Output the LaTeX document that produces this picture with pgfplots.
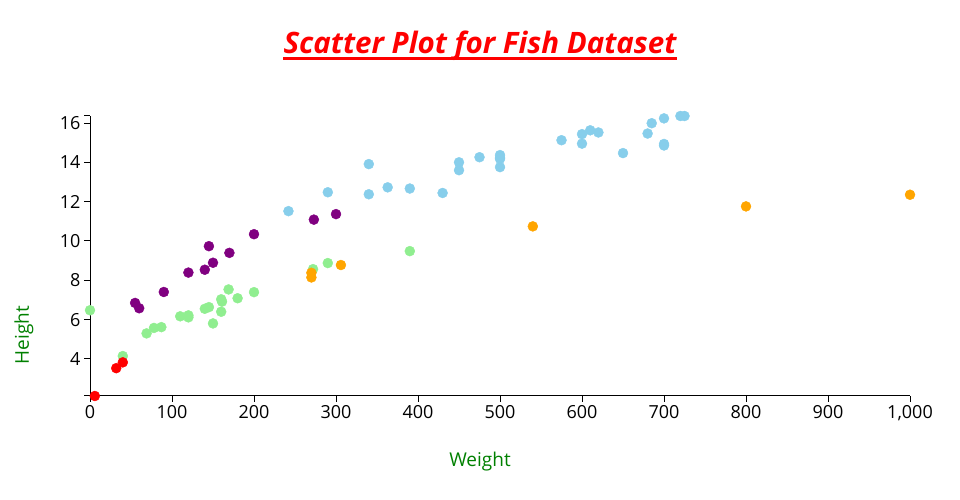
\documentclass[border=0pt]{standalone}
\usepackage{pgfplots}
\pgfplotsset{compat=1.18}
\usepackage{fontspec}
\setmainfont{Open Sans}
\definecolor{cBream}{HTML}{87CEEB}
\definecolor{cRoach}{HTML}{90EE90}
\definecolor{cWhite}{HTML}{FFA500}
\definecolor{cParkki}{HTML}{800080}
\definecolor{cPerch}{HTML}{FF0000}
\definecolor{cLab}{HTML}{008000}
\begin{document}
\begin{tikzpicture}[x=1bp,y=1bp]
\useasboundingbox (0,0) rectangle (960,500);
\node[anchor=base, inner sep=0pt, text=red, font=\fontsize{29.5bp}{34bp}\selectfont\bfseries\itshape] (T) at (480,446) {Scatter Plot for Fish Dataset};
\draw[red, line width=2.4bp] ([yshift=-4.5bp]T.base west) -- ([yshift=-4.5bp]T.base east);
\node[text=cLab, font=\fontsize{19bp}{22bp}\selectfont, rotate=90] at (24,165) {Height};
\node[text=cLab, font=\fontsize{19bp}{22bp}\selectfont] at (480,38) {Weight};
\begin{axis}[
  at={(90bp,104bp)}, anchor=south west, scale only axis,
  width=820bp, height=280bp,
  xmin=0, xmax=1000, ymin=2.112, ymax=16.3618,
  axis lines=left,
  axis line style={-, line width=1bp, black},
  xtick={0,100,...,1000}, ytick={4,6,...,16},
  extra y ticks={2.112,16.3618}, extra y tick labels={},
  tick align=outside, major tick length=6bp,
  tick style={black, line width=1bp},
  tick label style={font=\fontsize{18bp}{20bp}\selectfont, text=black},
  /pgf/number format/assume math mode=true,
  /pgf/number format/1000 sep={,},
  clip=false,
]
\addplot[only marks, mark=*, mark size=5bp, color=cBream, mark options={draw=cBream, fill=cBream, line width=0.4bp}] coordinates {
(242,11.52) (290,12.48) (340,12.3778) (363,12.73) (430,12.444) (450,13.6024)
(500,14.1795) (390,12.67) (450,14.0049) (500,14.2266) (475,14.2628) (500,14.3714)
(500,13.7592) (340,13.9129) (600,14.9544) (600,15.438) (700,14.8604) (700,14.938)
(610,15.633) (650,14.4738) (575,15.1285) (685,15.9936) (620,15.5227) (680,15.4686)
(700,16.2405) (725,16.36) (720,16.3618)
};
\addplot[only marks, mark=*, mark size=5bp, color=cRoach, mark options={draw=cRoach, fill=cRoach, line width=0.4bp}] coordinates {
(40,4.1448) (69,5.2983) (78,5.5756) (87,5.6166) (120,6.216) (0,6.4752)
(110,6.1677) (120,6.1146) (150,5.8045) (145,6.6339) (160,7.0334) (140,6.5505)
(160,6.4) (169,7.5344) (161,6.9153) (200,7.3968) (180,7.0866) (290,8.8768)
(272,8.568) (390,9.485)
};
\addplot[only marks, mark=*, mark size=5bp, color=cWhite, mark options={draw=cWhite, fill=cWhite, line width=0.4bp}] coordinates {
(270,8.3804) (270,8.1454) (306,8.777) (540,10.744) (800,11.7612) (1000,12.354)
};
\addplot[only marks, mark=*, mark size=5bp, color=cParkki, mark options={draw=cParkki, fill=cParkki, line width=0.4bp}] coordinates {
(55,6.8475) (60,6.5772) (90,7.4052) (120,8.3922) (150,8.8928) (140,8.5376)
(170,9.396) (145,9.7364) (200,10.3458) (273,11.088) (300,11.368)
};
\addplot[only marks, mark=*, mark size=5bp, color=cPerch, mark options={draw=cPerch, fill=cPerch, line width=0.4bp}] coordinates {
(5.9,2.112) (32,3.528) (40,3.824)
};
\end{axis}
\end{tikzpicture}
\end{document}
